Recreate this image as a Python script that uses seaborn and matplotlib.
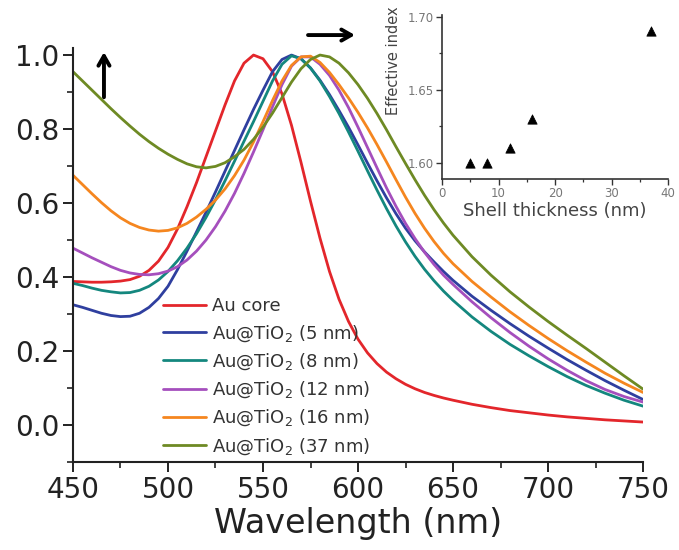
import matplotlib
matplotlib.use("Agg")
import matplotlib.pyplot as plt
from matplotlib.ticker import MultipleLocator, FixedLocator, FormatStrFormatter
import seaborn as sns

# Wavelength grid (nm)
wavelength = list(range(450, 651, 5)) + list(range(660, 751, 10))

# Normalized extinction spectra
au_core = [0.388, 0.387, 0.386, 0.386, 0.387, 0.389, 0.393, 0.402, 0.418, 0.443,
           0.480, 0.530, 0.590, 0.655, 0.725, 0.795, 0.865, 0.930, 0.978, 1.000,
           0.990, 0.955, 0.895, 0.810, 0.710, 0.605, 0.505, 0.415, 0.340, 0.280,
           0.232, 0.195, 0.166, 0.143, 0.125, 0.110, 0.098, 0.088, 0.080, 0.073,
           0.067,
           0.056, 0.047, 0.039, 0.033, 0.027, 0.022, 0.018, 0.014, 0.011, 0.008]
shell_5nm = [0.325, 0.318, 0.310, 0.302, 0.296, 0.293, 0.294, 0.302, 0.318, 0.342,
             0.375, 0.420, 0.470, 0.522, 0.575, 0.630, 0.686, 0.742, 0.798, 0.853,
             0.905, 0.955, 0.988, 1.000, 0.990, 0.965, 0.932, 0.893, 0.850, 0.805,
             0.757, 0.708, 0.660, 0.614, 0.571, 0.532, 0.498, 0.468, 0.441, 0.415,
             0.391,
             0.348, 0.310, 0.274, 0.240, 0.208, 0.177, 0.148, 0.120, 0.094, 0.069]
shell_8nm = [0.383, 0.377, 0.370, 0.364, 0.360, 0.357, 0.358, 0.364, 0.375, 0.392,
             0.415, 0.444, 0.478, 0.517, 0.561, 0.609, 0.660, 0.713, 0.767, 0.820,
             0.875, 0.930, 0.975, 0.998, 0.990, 0.965, 0.930, 0.888, 0.842, 0.792,
             0.740, 0.687, 0.635, 0.585, 0.538, 0.495, 0.456, 0.421, 0.390, 0.362,
             0.337,
             0.292, 0.253, 0.218, 0.187, 0.158, 0.131, 0.107, 0.086, 0.067, 0.051]
shell_12nm = [0.478, 0.465, 0.452, 0.440, 0.428, 0.418, 0.411, 0.407, 0.406, 0.409,
              0.416, 0.428, 0.446, 0.470, 0.500, 0.536, 0.578, 0.626, 0.680, 0.738,
              0.798, 0.860, 0.920, 0.970, 0.995, 0.995, 0.975, 0.945, 0.905, 0.858,
              0.805, 0.750, 0.695, 0.641, 0.591, 0.545, 0.504, 0.467, 0.434, 0.405,
              0.380,
              0.333, 0.290, 0.250, 0.213, 0.179, 0.148, 0.120, 0.096, 0.077, 0.062]
shell_16nm = [0.675, 0.650, 0.625, 0.601, 0.579, 0.560, 0.545, 0.534, 0.527, 0.524,
              0.526, 0.533, 0.545, 0.562, 0.583, 0.608, 0.638, 0.674, 0.716, 0.765,
              0.820, 0.877, 0.930, 0.972, 0.995, 0.997, 0.980, 0.953, 0.920, 0.884,
              0.845, 0.803, 0.758, 0.711, 0.663, 0.616, 0.572, 0.532, 0.496, 0.464,
              0.436,
              0.388, 0.346, 0.306, 0.269, 0.234, 0.201, 0.170, 0.140, 0.113, 0.088]
shell_37nm = [0.955, 0.930, 0.905, 0.880, 0.855, 0.831, 0.808, 0.786, 0.766, 0.748,
              0.732, 0.718, 0.706, 0.698, 0.695, 0.699, 0.709, 0.725, 0.745, 0.772,
              0.805, 0.843, 0.885, 0.927, 0.963, 0.988, 1.000, 0.995, 0.978, 0.952,
              0.920, 0.883, 0.842, 0.798, 0.752, 0.707, 0.663, 0.621, 0.582, 0.546,
              0.513,
              0.455, 0.405, 0.360, 0.319, 0.280, 0.243, 0.207, 0.170, 0.133, 0.097]

series = [au_core, shell_5nm, shell_8nm, shell_12nm, shell_16nm, shell_37nm]
series_labels = ["Au core", "Au@TiO$_2$ (5 nm)", "Au@TiO$_2$ (8 nm)",
                 "Au@TiO$_2$ (12 nm)", "Au@TiO$_2$ (16 nm)", "Au@TiO$_2$ (37 nm)"]
series_colors = ["#e3262b", "#2f3f9f", "#14877e", "#a54fbd", "#f5861f", "#6e8a24"]

# Inset: effective refractive index vs. shell thickness
shell_thickness = [5, 8, 12, 16, 37]
effective_index = [1.60, 1.60, 1.61, 1.63, 1.69]

sns.set_style("ticks")
plt.rcParams["font.family"] = ["DejaVu Sans"]
plt.rcParams["mathtext.fontset"] = "dejavusans"

ink = "#222222"
fig = plt.figure(figsize=(6.79, 5.5), dpi=100)
ax = fig.add_axes([0.1075, 0.16, 0.8395, 0.7527])

for vals, lab, col in zip(series, series_labels, series_colors):
    sns.lineplot(x=wavelength, y=vals, color=col, lw=2.0, label=lab, ax=ax)

ax.set_xlim(450, 750)
ax.set_ylim(-0.1, 1.019)
ax.xaxis.set_major_locator(MultipleLocator(50))
ax.xaxis.set_minor_locator(MultipleLocator(25))
ax.yaxis.set_major_locator(FixedLocator([0.0, 0.2, 0.4, 0.6, 0.8, 1.0]))
ax.yaxis.set_minor_locator(FixedLocator([-0.1, 0.1, 0.3, 0.5, 0.7, 0.9]))
ax.yaxis.set_major_formatter(FormatStrFormatter("%.1f"))
sns.despine(ax=ax)
for s in ("left", "bottom"):
    ax.spines[s].set_linewidth(1.5)
    ax.spines[s].set_color(ink)
ax.tick_params(which="major", direction="out", length=7, width=1.4, color=ink,
               labelsize=20, labelcolor=ink, pad=3)
ax.tick_params(which="minor", direction="out", length=4, width=1.2, color=ink)
ax.set_xlabel("Wavelength (nm)", fontsize=24, color=ink, labelpad=2)

leg = ax.legend(loc="upper left", bbox_to_anchor=(0.158, 0.398), frameon=False,
                fontsize=13, handlelength=2.4, handletextpad=0.3,
                labelspacing=0.43, borderpad=0, borderaxespad=0)
for t in leg.get_texts():
    t.set_color("#333333")

# Trend arrows
arrow_style = dict(arrowstyle="->,head_length=0.7,head_width=0.4",
                   lw=2.8, color="black", shrinkA=0, shrinkB=0)
ax.annotate("", xy=(466.3, 1.008), xytext=(466.3, 0.886),
            arrowprops=arrow_style, annotation_clip=False)
ax.annotate("", xy=(598.4, 1.054), xytext=(573.7, 1.054),
            arrowprops=arrow_style, annotation_clip=False)

# Inset
axin = fig.add_axes([0.651, 0.6745, 0.333, 0.298])
axin.set_facecolor("none")
sns.scatterplot(x=shell_thickness, y=effective_index, marker="^", color="black",
                s=45, edgecolor="black", ax=axin)
axin.set_xlim(0, 40)
axin.set_ylim(1.589, 1.701)
axin.xaxis.set_major_locator(MultipleLocator(10))
axin.xaxis.set_minor_locator(MultipleLocator(5))
axin.yaxis.set_major_locator(FixedLocator([1.60, 1.65, 1.70]))
axin.yaxis.set_minor_locator(FixedLocator([1.625, 1.675]))
axin.yaxis.set_major_formatter(FormatStrFormatter("%.2f"))
sns.despine(ax=axin)
for s in ("left", "bottom"):
    axin.spines[s].set_linewidth(1.2)
    axin.spines[s].set_color("#333333")
axin.tick_params(which="major", direction="out", length=4, width=1.0, color="#333333",
                 labelsize=8.5, labelcolor="#777777", pad=2)
axin.tick_params(which="minor", direction="out", length=2.5, width=0.9, color="#333333")
axin.set_xlabel("Shell thickness (nm)", fontsize=13, color="#444444", labelpad=1)
axin.set_ylabel("Effective index", fontsize=10.5, color="#444444")
axin.yaxis.set_label_coords(-0.181, 0.72)

fig.savefig("out.png", dpi=100)
